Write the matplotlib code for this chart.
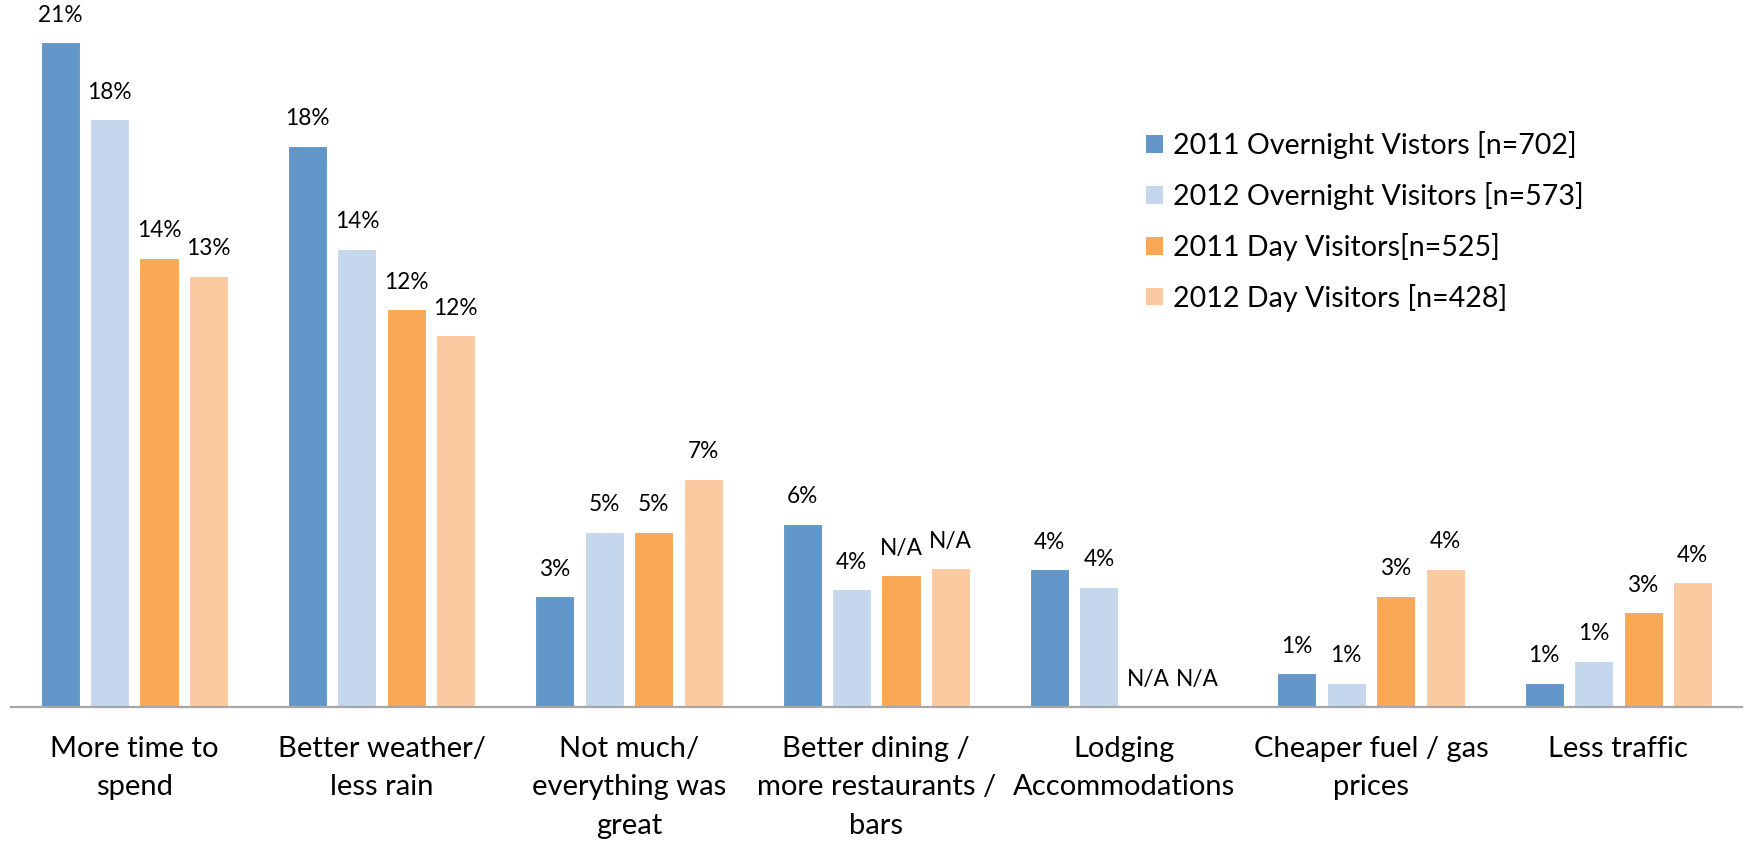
import matplotlib
matplotlib.use("Agg")
import matplotlib.pyplot as plt
import numpy as np
from matplotlib.patches import Patch

plt.rcParams['font.family'] = ['Lato', 'DejaVu Sans']

# Survey: what would make the visit better (share of respondents, %)
categories = [
    "More time to\nspend",
    "Better weather/\nless rain",
    "Not much/\neverything was\ngreat",
    "Better dining /\nmore restaurants /\nbars",
    "Lodging\nAccommodations",
    "Cheaper fuel / gas\nprices",
    "Less traffic",
]
series_names = [
    "2011 Overnight Vistors [n=702]",
    "2012 Overnight Visitors [n=573]",
    "2011 Day Visitors[n=525]",
    "2012 Day Visitors [n=428]",
]
overnight_2011 = [20.80, 17.55, 3.46, 5.72, 4.30, 1.05, 0.75]
overnight_2012 = [18.39, 14.33, 5.47, 3.67, 3.76, 0.75, 1.43]
day_2011 = [14.05, 12.44, 5.48, 4.11, 0.00, 3.47, 2.95]
day_2012 = [13.48, 11.62, 7.14, 4.33, 0.00, 4.32, 3.89]

# Categories where the day-visitor question was not asked
overnight_na = [False] * 7
day_na = [False, False, False, True, True, False, False]

colors = ["#6396C9", "#C5D7EC", "#F9A856", "#FBCAA0"]

series = [overnight_2011, overnight_2012, day_2011, day_2012]
na_flags = [overnight_na, overnight_na, day_na, day_na]

W, H = 1746, 842
fig = plt.figure(figsize=(W / 100, H / 100), dpi=100)
base_px = 706.7
ax = fig.add_axes([10.6 / W, (H - base_px) / H, (1742 - 10.6) / W, base_px / H])

x = np.arange(len(categories))
step = 0.2
width = 0.158

for k, (vals, col, na) in enumerate(zip(series, colors, na_flags)):
    pos = x + (k - 1.5) * step
    ax.bar(pos, vals, width, color=col, edgecolor="white", linewidth=0.8, zorder=2)
    for p, v, flag in zip(pos, vals, na):
        txt = "N/A" if flag else f"{v:.0f}%"
        ax.annotate(txt, (p, v), xytext=(0, 19.5), textcoords="offset points",
                    ha="center", va="center", fontsize=16.3, color="#000000")

ax.set_xlim(-0.5, len(categories) - 0.5)
ax.set_ylim(0, base_px / 31.95)

for side in ("left", "right", "top"):
    ax.spines[side].set_visible(False)
ax.spines["bottom"].set_color("#A6A6A6")
ax.spines["bottom"].set_linewidth(1.6)
ax.set_yticks([])
ax.set_xticks(x)
ax.set_xticklabels(categories, fontsize=21, linespacing=1.6, color="#000000")
ax.tick_params(axis="x", length=0, pad=21)

handles = [Patch(facecolor=c, edgecolor="none") for c in colors]
ax.legend(handles, series_names, loc="upper left",
          bbox_to_anchor=(1146 / W, 1 - 131 / H), bbox_transform=fig.transFigure,
          frameon=False, fontsize=20.6, handlelength=0.58, handleheight=0.58,
          handletextpad=0.35, labelspacing=0.8, borderpad=0, borderaxespad=0,
          labelcolor="#000000")

fig.savefig("out.png", dpi=100)
